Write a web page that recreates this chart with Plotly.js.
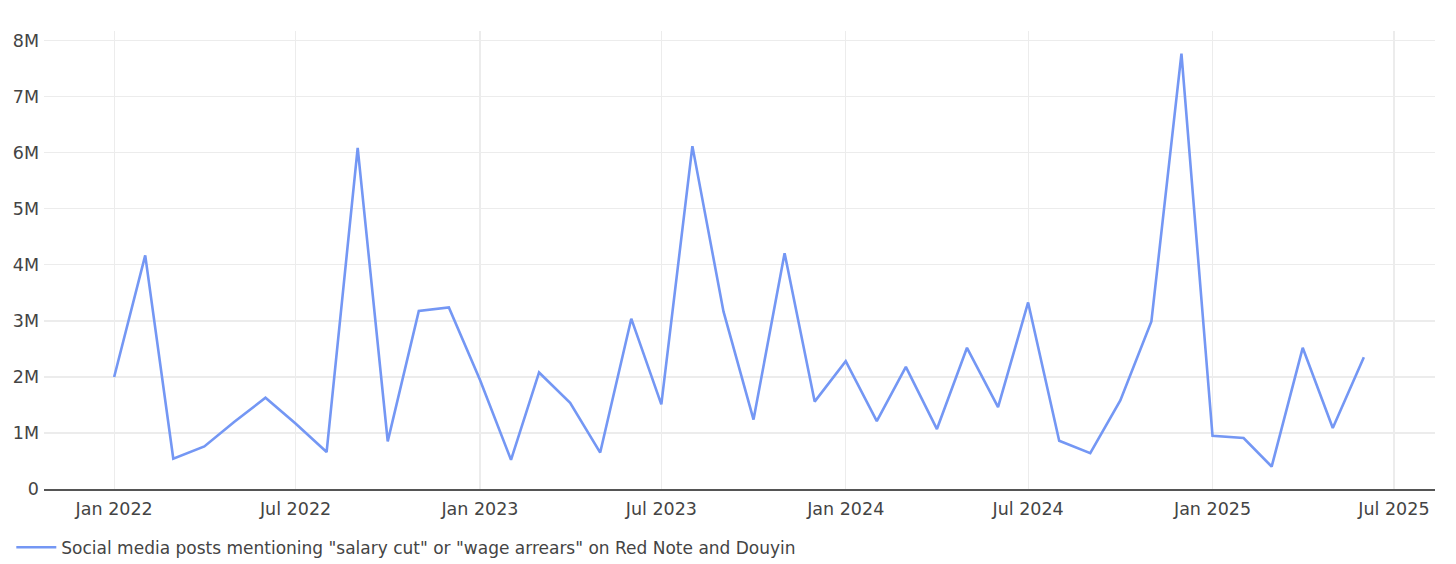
<!DOCTYPE html>
<html>
<head>
<meta charset="utf-8">
<script src="https://cdn.plot.ly/plotly-3.0.1.min.js"></script>
<style>html,body{margin:0;padding:0;background:#fff;}#chart{width:1456px;height:564px;}</style>
</head>
<body>
<div id="chart"></div>
<script>
const months = [
  '2022-01-01','2022-02-01','2022-03-01','2022-04-01','2022-05-01','2022-06-01',
  '2022-07-01','2022-08-01','2022-09-01','2022-10-01','2022-11-01','2022-12-01',
  '2023-01-01','2023-02-01','2023-03-01','2023-04-01','2023-05-01','2023-06-01',
  '2023-07-01','2023-08-01','2023-09-01','2023-10-01','2023-11-01','2023-12-01',
  '2024-01-01','2024-02-01','2024-03-01','2024-04-01','2024-05-01','2024-06-01',
  '2024-07-01','2024-08-01','2024-09-01','2024-10-01','2024-11-01','2024-12-01',
  '2025-01-01','2025-02-01','2025-03-01','2025-04-01','2025-05-01','2025-06-01'
];
const posts = [
  2.00e6, 4.17e6, 0.54e6, 0.76e6, 1.20e6, 1.63e6,
  1.17e6, 0.66e6, 6.09e6, 0.85e6, 3.18e6, 3.24e6,
  1.95e6, 0.52e6, 2.08e6, 1.54e6, 0.65e6, 3.04e6,
  1.51e6, 6.12e6, 3.17e6, 1.24e6, 4.21e6, 1.56e6,
  2.28e6, 1.21e6, 2.18e6, 1.07e6, 2.52e6, 1.46e6,
  3.33e6, 0.86e6, 0.64e6, 1.58e6, 2.99e6, 7.77e6,
  0.95e6, 0.91e6, 0.40e6, 2.52e6, 1.09e6, 2.35e6
];
const seriesName = 'Social media posts mentioning "salary cut" or "wage arrears" on Red Note and Douyin';
const xTickVals = ['2022-01-01','2022-07-01','2023-01-01','2023-07-01','2024-01-01','2024-07-01','2025-01-01','2025-07-01'];
const xTickText = ['Jan 2022','Jul 2022','Jan 2023','Jul 2023','Jan 2024','Jul 2024','Jan 2025','Jul 2025'];
const yTickVals = [0,1e6,2e6,3e6,4e6,5e6,6e6,7e6,8e6];
const yTickText = ['0','1M','2M','3M','4M','5M','6M','7M','8M'];

const trace = {
  x: months, y: posts, type: 'scatter', mode: 'lines', name: seriesName,
  line: {color: '#7497f4', width: 2.6}
};
const layout = {
  width: 1456, height: 564,
  margin: {l: 44, r: 21, t: 31, b: 75, autoexpand: false},
  paper_bgcolor: '#fff', plot_bgcolor: '#fff',
  font: {family: '"DejaVu Sans", Verdana, sans-serif', size: 17, color: '#444'},
  showlegend: true,
  legend: {orientation: 'h', x: -0.0235, xanchor: 'left', y: -0.089, yanchor: 'top',
           itemwidth: 40, font: {size: 17, color: '#444'}},
  xaxis: {
    type: 'date', range: ['2021-10-23', '2025-08-11'],
    tickvals: xTickVals, ticktext: xTickText,
    showgrid: true, gridcolor: '#ececec', gridwidth: 1.2,
    showline: true, linecolor: '#555', linewidth: 2,
    zeroline: false, ticks: '', ticklabelstandoff: 3, automargin: false, fixedrange: true,
    tickfont: {size: 17.5}
  },
  yaxis: {
    range: [0, 8.175e6],
    tickvals: yTickVals, ticktext: yTickText,
    showgrid: true, gridcolor: '#ececec', gridwidth: 1.2,
    zeroline: false, showline: false, ticks: '', ticklabelstandoff: 4, automargin: false, fixedrange: true,
    tickfont: {size: 17.5}
  }
};
Plotly.newPlot('chart', [trace], layout, {displayModeBar: false, staticPlot: true});
</script>
</body>
</html>
